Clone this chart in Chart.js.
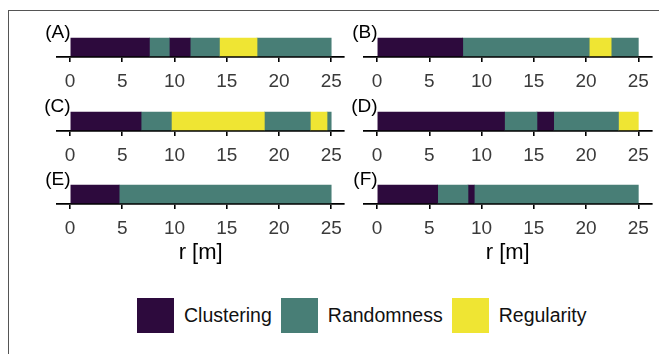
<!DOCTYPE html>
<html>
<head>
<meta charset="utf-8">
<script src="https://cdn.jsdelivr.net/npm/chart.js@4"></script>
<style>
  body { margin: 0; background: #fff; }
  #page { position: relative; width: 659px; height: 354px; overflow: hidden; font-family: "Liberation Sans", Arial, sans-serif; }
  #frame { position: absolute; left: 8px; top: 10px; right: -2px; bottom: -2px; border-top: 1px solid #555; border-left: 1px solid #555; }
  .panel { position: absolute; }
  #legend { position: absolute; left: 137px; top: 298px; display: flex; align-items: center; }
  .key { width: 37px; height: 35px; }
  .lab { font-size: 19.5px; color: #111; margin-left: 10px; margin-right: 9px; }
</style>
</head>
<body>
<div id="page">
  <div id="frame"></div>
  <div id="legend"></div>
</div>
<script>
const xTicks = [0, 5, 10, 15, 20, 25];
const classNames = ["Clustering", "Randomness", "Regularity"];
const classColors = ["#2d0a3d", "#487e76", "#efe533"];
const panelLabels = ["(A)", "(B)", "(C)", "(D)", "(E)", "(F)"];

// segment boundaries along r and the class of each segment
const breaksA = [0, 7.6, 9.5, 11.5, 14.3, 17.9, 25];
const classesA = [0, 1, 0, 1, 2, 1];
const breaksB = [0, 8.2, 20.3, 22.4, 25];
const classesB = [0, 1, 2, 1];
const breaksC = [0, 6.8, 9.7, 18.6, 23.0, 24.6, 25];
const classesC = [0, 1, 2, 1, 2, 1];
const breaksD = [0, 12.2, 15.3, 16.9, 23.1, 25];
const classesD = [0, 1, 0, 1, 2];
const breaksE = [0, 4.7, 25];
const classesE = [0, 1];
const breaksF = [0, 5.8, 8.7, 9.3, 25];
const classesF = [0, 1, 0, 1];

const panels = [
  [breaksA, classesA], [breaksB, classesB],
  [breaksC, classesC], [breaksD, classesD],
  [breaksE, classesE], [breaksF, classesF],
];

const page = document.getElementById("page");
const font = "'Liberation Sans', Arial, sans-serif";
const rowTops = [15, 89, 162];
const cols = [
  { left: 0, width: 350, padLeft: 57, padRight: 5 },
  { left: 350, width: 309, padLeft: 14, padRight: 7.6 },
];

const panelLabel = {
  id: "panelLabel",
  afterDraw(chart, args, opts) {
    const ctx = chart.ctx;
    const x0 = chart.scales.x.getPixelForValue(0);
    ctx.save();
    ctx.font = "19px " + font;
    ctx.fillStyle = "#000";
    ctx.textAlign = "right";
    ctx.textBaseline = "middle";
    ctx.fillText(opts.text, x0 + 0.5, chart.chartArea.top - 4);
    ctx.restore();
  },
};

panels.forEach(([breaks, classes], i) => {
  const row = Math.floor(i / 2);
  const col = cols[i % 2];
  const last = row === 2;
  const h = last ? 104 : 80;
  const div = document.createElement("div");
  div.className = "panel";
  div.style.left = col.left + "px";
  div.style.top = rowTops[row] + "px";
  div.style.width = col.width + "px";
  div.style.height = h + "px";
  const cv = document.createElement("canvas");
  div.appendChild(cv);
  page.appendChild(div);

  const datasets = classes.map((c, k) => ({
    label: classNames[c],
    data: [[breaks[k], breaks[k + 1]]],
    backgroundColor: classColors[c],
    borderWidth: 0,
    barThickness: 18,
    grouped: false,
  }));

  new Chart(cv, {
    type: "bar",
    data: { labels: [""], datasets: datasets },
    plugins: [panelLabel],
    options: {
      indexAxis: "y",
      responsive: true,
      maintainAspectRatio: false,
      animation: false,
      layout: { padding: { top: 22, left: col.padLeft, right: col.padRight, bottom: 0 } },
      plugins: {
        legend: { display: false },
        tooltip: { enabled: false },
        panelLabel: { text: panelLabels[i] },
      },
      scales: {
        y: { type: "category", display: false },
        x: {
          type: "linear",
          min: -1.25,
          max: 26.25,
          afterBuildTicks: (s) => { s.ticks = xTicks.map((v) => ({ value: v })); },
          afterFit: (s) => { s.height = last ? 62 : 38; },
          grid: { drawOnChartArea: false, drawTicks: true, tickLength: 5, color: "#000", lineWidth: 1.6 },
          border: { display: true, color: "#000", width: 1.8 },
          ticks: { font: { family: font, size: 19 }, color: "#3a3a3a", padding: 8, maxRotation: 0, autoSkip: false },
          title: { display: last, text: "r [m]", color: "#000", font: { family: font, size: 22 }, padding: 0 },
        },
      },
    },
  });
});

const legend = document.getElementById("legend");
classNames.forEach((name, c) => {
  const key = document.createElement("div");
  key.className = "key";
  key.style.background = classColors[c];
  const lab = document.createElement("div");
  lab.className = "lab";
  lab.textContent = name;
  legend.appendChild(key);
  legend.appendChild(lab);
});
</script>
</body>
</html>
